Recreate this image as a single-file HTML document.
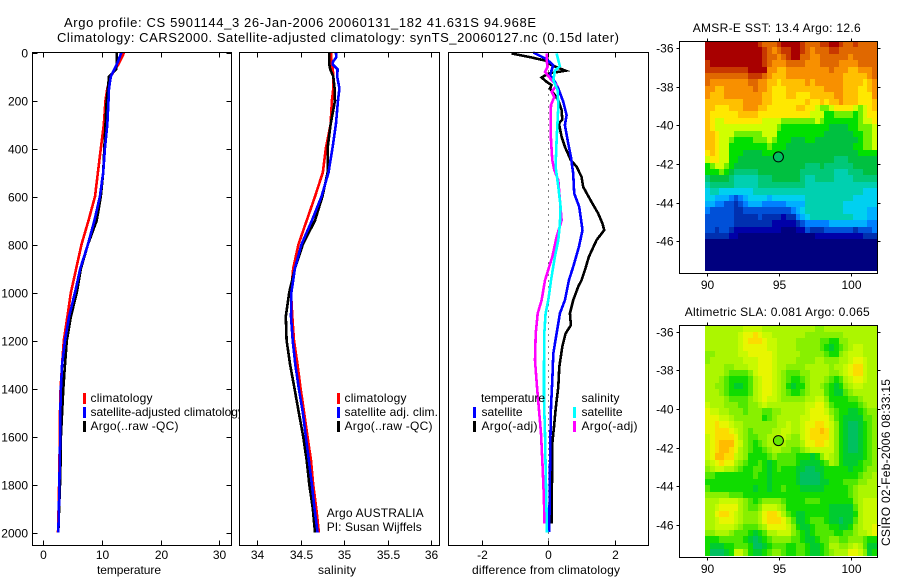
<!DOCTYPE html>
<html>
<head>
<meta charset="utf-8">
<title>Argo profile 5901144_3</title>
<style>
html,body{margin:0;padding:0;background:#fff;}
svg{display:block;}
text{font-family:"Liberation Sans",sans-serif;font-size:12px;fill:#000;}
text.fig-title{font-size:13px;}
</style>
</head>
<body>
<svg id="figure" xmlns="http://www.w3.org/2000/svg" width="900" height="580" viewBox="0 0 900 580">
  <rect x="0" y="0" width="900" height="580" fill="#fff"/>
  <text class="fig-title" x="64" y="27" textLength="472" lengthAdjust="spacing">Argo profile: CS 5901144_3 26-Jan-2006 20060131_182 41.631S 94.968E</text>
  <text class="fig-title" x="57" y="42" textLength="562" lengthAdjust="spacing">Climatology: CARS2000. Satellite-adjusted climatology: synTS_20060127.nc (0.15d later)</text>
  <g id="plots"></g>
  <text transform="translate(890,546) rotate(-90)" textLength="167" lengthAdjust="spacing">CSIRO 02-Feb-2006 08:33:15</text>
</svg>
<script>
// ---- profile data ----
const depths = [0,20,40,50,70,100,150,200,300,400,500,600,700,800,900,1000,1100,1200,1300,1400,1500,1600,1700,1800,1900,2000];
const depthTicks = [0,200,400,600,800,1000,1200,1400,1600,1800,2000];
const tempClim = [13.75,13.4,13.0,12.8,12.2,11.5,10.9,10.6,10.3,9.8,9.3,8.8,7.7,6.5,5.6,4.7,4.1,3.5,3.2,2.95,2.85,2.85,2.75,2.7,2.6,2.5];
const tempSat = [13.3,13.0,12.7,12.5,12.1,11.5,11.2,11.1,10.9,10.5,10.2,9.65,8.7,7.6,6.3,5.4,4.4,3.7,3.2,3.0,2.9,2.9,2.8,2.75,2.65,2.55];
const tempArgo = [12.5,12.5,12.5,12.5,12.4,11.2,11.0,10.8,10.6,10.4,10.2,9.8,9.1,7.6,6.4,5.7,4.7,4.0,3.7,3.4,3.2,3.0,2.95,2.85,2.7,2.55];
const tempTicks = [0,10,20,30];
const salClim = [34.85,34.85,34.86,34.86,34.87,34.875,34.875,34.86,34.845,34.79,34.755,34.665,34.57,34.475,34.415,34.39,34.405,34.425,34.465,34.5,34.54,34.58,34.62,34.645,34.68,34.71];
const salSat = [34.905,34.91,34.87,34.87,34.925,34.92,34.945,34.93,34.905,34.865,34.82,34.74,34.63,34.51,34.435,34.395,34.39,34.41,34.44,34.48,34.525,34.56,34.595,34.63,34.66,34.695];
const salArgo = [34.83,34.83,34.83,34.83,34.84,34.875,34.89,34.895,34.845,34.81,34.81,34.75,34.665,34.525,34.435,34.37,34.33,34.34,34.38,34.43,34.48,34.53,34.57,34.6,34.64,34.665];
const salTicks = [34,34.5,35,35.5,36];
const diffTicks = [-2,0,2];
const diffTempArgoDepth = [4,21,35,53,76,88,104,122,136,150,178,199,240,279,296,351,393,449,476,518,560,615,671,713,740,782,851,907,949,976,1032,1087,1136,1171,1226,1310,1393,1476,1560,1629,1726,1865,1962];
const diffTempArgo = [-1.1,-0.5,-0.05,0.1,0.52,0,-0.2,-0.05,0.1,0.05,0.2,0.3,0.4,0.42,0.32,0.4,0.5,0.68,0.85,1,1.05,1.27,1.5,1.63,1.68,1.45,1.22,1.1,1,0.9,0.75,0.65,0.68,0.52,0.42,0.33,0.3,0.23,0.17,0.12,0.12,0.1,0.1];
const diffTempSatDepth = [0,28,53,74,95,122,150,206,261,303,365,435,504,587,643,740,810,893,949,1032,1087,1171,1254,1365,1476,1629,1865,1997];
const diffTempSat = [-0.45,-0.05,0.15,0.1,0.05,0.2,0.3,0.45,0.55,0.5,0.58,0.68,0.75,0.78,0.93,1.03,0.92,0.75,0.62,0.5,0.35,0.25,0.15,0.12,0.08,0.06,0.04,0.03];
const diffSalArgoDepth = [4,32,60,81,115,136,164,185,219,296,365,449,490,532,615,699,768,851,949,1032,1087,1171,1282,1393,1587,1726,1865,1962];
const diffSalArgo = [-0.05,-0.05,-0.02,-0.1,0.1,0.25,0.1,0.18,0.08,0.07,0.08,0.12,0.18,0.3,0.35,0.4,0.25,0.12,-0.1,-0.2,-0.32,-0.38,-0.4,-0.34,-0.22,-0.17,-0.13,-0.12];
const diffSalSatDepth = [4,32,57,76,115,157,226,365,476,560,643,713,782,851,949,1032,1087,1171,1310,1449,1587,1726,1865,2000];
const diffSalSat = [0.25,0.3,0.35,0.2,0.15,0.28,0.3,0.25,0.22,0.3,0.37,0.35,0.3,0.2,0.08,0,-0.08,-0.12,-0.13,-0.13,-0.1,-0.08,-0.06,-0.04];

// ---- map data ----
const lonTicks = [90,95,100];
const latTicks = [-36,-38,-40,-42,-44,-46];
const argoLon = [94.968];
const argoLat = [-41.631];
const sstPalette = ["#00007f","#0000a8","#0030b0","#0050d8","#0080ff","#00b0ff","#00d0f0","#00d0b0","#00c878","#00c040","#00e000","#70f000","#d0ff00","#ffe800","#ffc000","#f89000","#e06800","#c83800","#a80000"];
const slaPalette = ["#00c060","#00cc30","#10dc00","#50e800","#88f000","#acf600","#c8fa00","#e8f600","#fcdc00","#ffbc00"];
const sstLevels = [
[18,18,18,18,18,18,18,18,18,18,18,17,16,16,16,17,18,18,18,18,17,16,16,16,17,17,18,18,17,16,16,17,16,16,16,16],
[18,18,18,18,18,18,18,18,18,18,18,18,17,16,15,16,17,17,18,18,17,16,15,16,16,16,17,17,16,16,16,16,16,16,16,16],
[18,18,18,18,18,18,18,18,18,18,18,18,17,16,16,15,16,17,18,18,16,16,15,15,16,16,16,16,16,16,15,16,16,16,16,16],
[17,18,18,18,18,18,18,18,18,18,18,18,17,16,15,15,15,16,16,16,16,15,15,15,16,16,16,16,15,15,15,15,16,16,16,16],
[17,17,17,17,17,17,17,17,17,18,18,18,18,15,15,14,14,15,15,15,15,15,15,15,15,15,16,15,15,15,14,14,15,15,15,16],
[16,16,16,16,16,16,16,16,16,17,17,17,16,15,14,14,14,15,15,15,15,15,15,15,15,15,15,15,15,14,14,14,14,14,15,16],
[16,15,15,15,15,15,15,15,15,16,16,15,15,14,14,13,14,14,14,14,14,15,14,15,15,15,15,15,15,14,14,14,14,13,14,15],
[15,15,14,14,15,15,15,15,15,15,16,15,15,14,13,13,13,14,14,14,14,14,14,14,14,15,15,15,15,14,14,14,13,13,14,15],
[15,14,14,14,15,15,15,15,15,15,15,15,14,14,13,13,13,14,14,13,13,13,14,14,14,14,14,15,15,14,14,14,13,13,13,15],
[14,14,14,14,14,14,14,14,15,15,15,15,14,14,13,13,13,13,13,13,13,14,13,13,14,13,14,14,15,14,14,14,13,13,13,14],
[14,14,13,13,13,14,14,14,15,15,15,14,14,13,13,13,13,13,13,14,14,13,13,12,11,11,12,13,13,13,13,12,11,12,13,14],
[14,13,13,13,13,13,13,14,14,14,14,13,13,13,13,13,13,13,13,13,13,13,12,12,12,10,10,11,11,11,11,10,11,12,13,13],
[14,13,12,12,13,13,13,13,13,13,13,13,12,12,12,12,11,11,11,11,11,11,11,12,11,10,10,10,10,10,10,10,11,12,12,13],
[14,13,12,12,12,12,12,12,12,12,12,12,12,12,12,11,10,10,10,10,10,10,10,10,10,10,9,9,9,9,10,10,11,11,11,12],
[14,14,13,12,12,12,11,11,11,11,11,11,12,12,12,10,10,10,10,10,10,10,10,10,10,9,9,9,9,9,9,10,10,11,11,12],
[14,14,13,12,12,11,10,10,10,10,11,11,11,12,11,10,10,10,9,9,9,10,10,9,9,9,9,9,9,9,9,9,10,11,11,12],
[14,14,13,12,12,10,10,10,10,10,10,10,10,11,10,10,10,9,9,9,9,9,9,9,9,9,9,9,9,9,9,10,10,11,11,12],
[13,14,13,12,12,10,10,10,9,9,9,9,10,10,10,10,9,9,9,9,9,9,9,9,9,9,9,9,9,9,9,9,10,10,10,10],
[12,13,13,12,12,10,10,9,9,9,9,9,9,9,9,9,9,9,9,9,9,9,9,9,9,9,9,8,8,8,9,9,9,9,9,9],
[10,11,12,12,11,10,9,9,9,9,9,9,9,9,9,9,9,9,9,9,9,8,8,8,9,8,8,8,8,8,8,9,9,9,9,9],
[10,10,10,11,10,9,8,8,8,8,8,9,9,9,9,9,9,9,9,9,8,8,8,8,8,8,8,7,7,7,8,8,8,9,9,9],
[8,9,9,9,9,8,7,7,7,7,7,8,8,8,9,9,9,9,9,9,8,7,7,8,8,8,8,7,7,7,7,8,8,8,8,8],
[7,8,8,8,8,8,7,7,7,7,7,8,8,8,8,8,8,8,8,8,8,7,7,7,7,7,7,7,7,7,7,7,7,7,7,7],
[6,7,7,6,6,6,6,6,6,6,7,7,7,7,7,7,7,7,7,7,7,7,7,7,7,7,7,7,7,7,7,7,7,6,6,6],
[6,6,5,5,5,4,3,4,5,6,6,6,6,5,6,6,6,6,6,6,6,7,7,7,7,7,7,7,7,7,7,6,6,6,6,6],
[5,5,4,4,3,3,2,3,4,5,5,5,4,4,4,4,4,5,5,5,5,7,7,7,7,7,7,7,7,6,6,6,6,6,6,6],
[4,3,3,3,3,3,2,2,3,3,3,3,3,3,3,3,3,3,4,5,6,7,7,7,7,7,7,7,7,6,6,6,6,6,5,5],
[3,3,3,3,3,3,2,2,2,2,2,3,2,2,2,2,1,2,2,4,5,6,7,7,7,7,7,7,7,7,7,6,6,6,5,5],
[3,3,3,3,3,3,2,2,2,2,2,2,2,2,1,1,1,1,1,2,3,4,4,4,4,4,5,5,5,5,5,5,5,5,4,4],
[3,3,2,3,3,2,1,1,1,1,1,1,1,1,1,1,0,0,0,1,1,3,2,2,2,3,3,3,3,3,3,2,3,3,3,4],
[2,2,2,2,2,1,1,0,0,0,0,0,0,0,0,0,0,0,0,0,0,0,0,1,1,1,1,1,1,1,1,1,1,2,2,2],
[0,0,0,0,0,0,0,0,0,0,0,0,0,0,0,0,0,0,0,0,0,0,0,0,0,0,0,0,0,0,0,0,0,0,0,0],
[0,0,0,0,0,0,0,0,0,0,0,0,0,0,0,0,0,0,0,0,0,0,0,0,0,0,0,0,0,0,0,0,0,0,0,0],
[0,0,0,0,0,0,0,0,0,0,0,0,0,0,0,0,0,0,0,0,0,0,0,0,0,0,0,0,0,0,0,0,0,0,0,0],
[0,0,0,0,0,0,0,0,0,0,0,0,0,0,0,0,0,0,0,0,0,0,0,0,0,0,0,0,0,0,0,0,0,0,0,0],
[0,0,0,0,0,0,0,0,0,0,0,0,0,0,0,0,0,0,0,0,0,0,0,0,0,0,0,0,0,0,0,0,0,0,0,0]
];
const slaLevels = [
[5,5,5,5,5,5,5,5,6,6,6,6,5,5,5,5,5,5,5,5,5,5,5,4,4,5,5,5,5,5,5,5,5,5,5,5],
[5,5,5,5,5,5,5,6,7,7,8,7,6,6,5,5,5,5,5,5,5,4,4,4,4,4,4,4,4,5,5,5,5,5,5,5],
[5,5,5,5,5,5,5,6,7,8,8,8,7,6,6,5,5,5,5,4,4,4,4,4,3,3,2,2,4,4,5,5,5,5,5,5],
[5,5,5,5,5,5,5,6,7,7,7,7,7,6,6,5,5,5,5,4,4,4,4,4,3,2,1,2,3,4,5,6,6,5,5,5],
[4,4,5,5,5,5,5,6,6,7,7,7,7,7,6,5,5,5,5,5,4,4,4,4,4,3,2,2,4,5,6,6,6,5,5,5],
[4,5,5,5,5,5,5,5,6,6,6,7,7,7,6,5,5,5,5,4,4,4,4,5,5,4,4,4,5,5,6,7,7,6,5,5],
[5,5,5,5,4,4,5,5,5,6,6,7,7,7,6,5,5,4,4,4,4,5,5,5,5,5,4,5,5,6,7,8,8,6,5,5],
[5,5,5,5,4,3,3,3,3,4,6,7,7,7,6,5,4,3,3,3,4,4,5,5,5,5,4,4,5,6,7,8,8,6,5,5],
[5,5,5,4,3,2,2,2,2,3,5,6,7,7,6,5,4,3,2,2,3,4,5,5,5,4,3,2,3,5,6,7,7,6,5,5],
[5,5,4,4,3,2,1,1,2,3,5,6,7,7,6,5,4,2,1,2,2,4,5,5,4,3,2,1,2,4,5,6,6,5,5,5],
[5,5,5,4,3,2,2,2,2,3,5,6,7,7,6,5,4,3,2,2,3,4,5,5,5,3,2,1,1,3,4,5,5,5,5,5],
[5,5,5,5,4,3,3,3,3,4,5,6,7,6,6,5,4,4,4,4,4,5,5,6,6,4,2,2,2,2,3,3,4,5,5,5],
[6,5,5,5,4,4,4,3,3,4,4,5,6,5,5,5,5,5,5,5,5,6,6,7,7,5,3,2,2,2,2,2,3,4,5,5],
[7,6,6,5,5,4,4,4,3,4,4,4,3,3,4,4,5,5,5,5,5,6,7,7,7,6,4,3,2,2,1,1,2,3,4,4],
[7,7,7,6,6,5,4,4,4,4,4,4,2,3,4,5,5,5,5,5,6,6,7,7,7,7,5,3,2,1,1,1,1,3,3,4],
[7,7,8,7,7,6,5,5,4,4,4,4,4,4,4,5,5,6,5,5,6,7,7,8,8,7,6,4,2,1,0,0,1,2,3,4],
[7,7,8,8,8,7,6,5,4,3,4,4,4,4,5,5,6,6,5,5,6,7,8,8,9,8,6,4,2,1,0,0,1,2,3,4],
[6,7,8,8,8,8,7,5,4,3,3,4,4,5,5,6,6,5,4,4,6,7,8,8,8,8,6,4,2,1,0,0,1,2,3,4],
[6,7,8,9,9,9,7,6,4,3,2,3,4,5,5,5,5,4,4,4,5,7,7,8,8,7,6,4,2,1,0,0,1,2,3,4],
[6,7,8,9,9,8,7,5,4,3,2,2,3,4,5,5,4,4,3,3,4,5,6,6,6,6,6,4,2,1,0,0,1,2,3,4],
[6,7,9,9,8,8,6,5,4,2,2,2,2,3,4,3,3,3,3,2,2,2,1,2,4,6,5,4,2,1,1,1,1,2,3,4],
[5,6,7,8,7,7,5,4,3,2,2,3,2,1,2,3,3,3,3,2,1,1,1,1,2,3,5,4,2,1,1,1,2,3,3,4],
[4,5,6,6,5,5,4,3,2,2,3,3,2,1,2,3,2,2,2,1,1,0,0,1,1,2,2,2,2,2,1,2,2,3,4,4],
[3,3,2,2,2,2,2,2,2,2,3,2,2,1,2,2,2,2,2,1,0,0,0,0,1,2,2,2,2,2,2,2,3,4,4,5],
[2,2,2,2,2,2,2,2,2,2,2,2,2,1,2,2,2,2,2,1,0,0,0,0,1,1,2,2,2,3,3,3,4,4,5,5],
[3,2,2,2,2,2,2,2,2,2,1,2,2,1,2,2,3,2,2,2,1,1,1,1,1,2,2,2,2,2,3,4,5,5,5,5],
[4,4,4,4,4,3,3,3,2,2,2,2,2,2,2,2,2,2,2,2,2,2,2,2,2,2,2,2,2,2,3,4,5,5,5,5],
[5,5,5,6,6,6,6,5,4,3,2,3,4,4,4,4,3,2,2,2,2,3,3,3,2,2,2,2,2,2,2,4,5,6,6,6],
[5,5,6,7,7,7,7,5,4,3,3,4,6,6,6,5,4,2,2,2,2,2,2,2,2,2,1,1,1,1,1,3,5,6,6,6],
[5,5,7,8,8,7,6,5,4,4,4,5,7,8,8,7,5,3,2,1,1,2,2,2,2,2,1,1,1,1,1,2,5,6,6,6],
[5,5,6,7,7,7,6,5,4,4,4,5,7,8,8,8,7,5,3,1,1,2,3,3,3,2,1,1,0,1,1,3,5,6,6,6],
[5,5,6,6,6,6,5,4,3,3,3,4,5,7,7,7,7,6,4,2,1,1,2,3,3,3,2,2,1,1,2,4,5,6,6,7],
[4,4,5,5,5,4,3,3,3,2,1,2,3,5,5,6,6,6,4,3,2,1,2,3,3,3,3,2,2,3,3,4,5,5,6,7],
[2,2,2,3,3,3,3,3,2,1,0,1,2,3,4,4,4,4,3,3,2,1,1,2,3,3,4,4,3,3,4,4,4,3,2,2],
[2,1,1,1,2,2,3,3,3,2,0,0,1,2,3,3,3,2,2,3,3,2,1,1,2,3,5,5,4,4,5,6,5,3,1,1],
[2,0,0,0,1,2,6,6,4,2,1,1,2,3,4,4,3,2,2,3,3,2,1,1,2,3,4,5,5,5,7,7,6,4,1,2]
];

const NS = "http://www.w3.org/2000/svg";
const plots = document.getElementById("plots");

function make(parent, tag, name) {
  const el = document.createElementNS(NS, tag);
  
  
  parent.appendChild(el);
  return el;
}
function setAll(el, props) {
  for (const k in props) el.setAttribute(k, props[k]);
  return el;
}
function addLine(parent, name, x1, y1, x2, y2, color, width) {
  const el = make(parent, "line", name);
  setAll(el, {x1: x1, y1: y1, x2: x2, y2: y2, stroke: color || "#000", "stroke-width": width || 1, "shape-rendering": "crispEdges"});
  return el;
}
function addText(parent, name, str, x, y, anchor, fit) {
  const el = make(parent, "text", name);
  setAll(el, {x: x, y: y, "text-anchor": anchor || "start"});
  if (fit) setAll(el, {textLength: fit, lengthAdjust: "spacing"});
  el.textContent = str;
  return el;
}
function addSeries(parent, name, xs, ds, xScale, yScale, color) {
  const el = make(parent, "polyline", name);
  const pts = xs.map((v, i) => xScale(v).toFixed(1) + "," + yScale(ds[i]).toFixed(1)).join(" ");
  setAll(el, {points: pts, fill: "none", stroke: color, "stroke-width": 2.6, "stroke-linejoin": "miter", "shape-rendering": "crispEdges"});
  return el;
}
function addLegendMark(parent, name, x, y, color) {
  const el = make(parent, "rect", name);
  setAll(el, {x: x, y: y, width: 3, height: 11, fill: color, "shape-rendering": "crispEdges"});
  return el;
}

const yDepth = d => 52.5 + d * 0.24;
const xTemp = v => 43.3 + v * 5.87;
const xSal = v => 257 + (v - 34) * 87.15;
const xDiff = v => 548.3 + v * 33.25;

function panelFrame(g, left, right, xTicks, xScale, xTitle, titleX, titleFit, sideTicks) {
  const top = 52.5, bottom = 545.5;
  const bg = make(g, "rect", "panel-background");
  setAll(bg, {x: left, y: top, width: right - left, height: bottom - top, fill: "#fff"});
  return {top: top, bottom: bottom, left: left, right: right, xTicks: xTicks, xScale: xScale, xTitle: xTitle, titleX: titleX, titleFit: titleFit, sideTicks: sideTicks};
}
function panelAxes(g, p) {
  const frame = make(g, "rect", "panel-frame");
  setAll(frame, {x: p.left, y: p.top, width: p.right - p.left, height: p.bottom - p.top, fill: "none", stroke: "#000", "stroke-width": 1, "shape-rendering": "crispEdges"});
  p.xTicks.forEach(t => {
    const x = Math.round(p.xScale(t)) + 0.5;
    addLine(g, "x-tick-top", x, p.top, x, p.top + 5);
    addLine(g, "x-tick-bottom", x, p.bottom - 5, x, p.bottom);
    addText(g, "x-tick-label", String(t), x, 559, "middle");
  });
  addText(g, "x-axis-title", p.xTitle, p.titleX, 574, "start", p.titleFit);
  if (p.sideTicks) {
    depthTicks.forEach(d => {
      const y = Math.round(yDepth(d)) + 0.5;
      addLine(g, "y-tick-left", p.left, y, p.left + 5, y);
      addLine(g, "y-tick-right", p.right - 5, y, p.right, y);
      addText(g, "y-tick-label", String(d), 28, y + 4, "end");
    });
  }
}

// ---- temperature panel ----
const gTemp = make(plots, "g", "temperature-panel");
const pTemp = panelFrame(gTemp, 32.5, 231.5, tempTicks, xTemp, "temperature", 97, 64, true);
addSeries(gTemp, "temperature-climatology-line", tempClim, depths, xTemp, yDepth, "#ff0000");
addSeries(gTemp, "temperature-argo-line", tempArgo, depths, xTemp, yDepth, "#000000");
addSeries(gTemp, "temperature-satellite-line", tempSat, depths, xTemp, yDepth, "#0000ff");
panelAxes(gTemp, pTemp);
const lgTemp = make(gTemp, "g", "temperature-legend");
addLegendMark(lgTemp, "legend-mark-climatology", 83, 393, "#ff0000");
addText(lgTemp, "legend-label-climatology", "climatology", 90.5, 402, "start", 62);
addLegendMark(lgTemp, "legend-mark-satellite", 83, 407, "#0000ff");
addText(lgTemp, "legend-label-satellite", "satellite-adjusted climatology", 90.5, 416);
addLegendMark(lgTemp, "legend-mark-argo", 83, 421, "#000000");
addText(lgTemp, "legend-label-argo", "Argo(..raw -QC)", 90.5, 430, "start", 88);

// ---- salinity panel ----
const gSal = make(plots, "g", "salinity-panel");
const pSal = panelFrame(gSal, 239.5, 439.5, salTicks, xSal, "salinity", 318, 38, false);
addSeries(gSal, "salinity-climatology-line", salClim, depths, xSal, yDepth, "#ff0000");
addSeries(gSal, "salinity-argo-line", salArgo, depths, xSal, yDepth, "#000000");
addSeries(gSal, "salinity-satellite-line", salSat, depths, xSal, yDepth, "#0000ff");
panelAxes(gSal, pSal);
const lgSal = make(gSal, "g", "salinity-legend");
addLegendMark(lgSal, "legend-mark-climatology", 337, 393, "#ff0000");
addText(lgSal, "legend-label-climatology", "climatology", 344.5, 402, "start", 62);
addLegendMark(lgSal, "legend-mark-satellite", 337, 407, "#0000ff");
addText(lgSal, "legend-label-satellite", "satellite adj. clim.", 344.5, 416, "start", 93.5);
addLegendMark(lgSal, "legend-mark-argo", 337, 421, "#000000");
addText(lgSal, "legend-label-argo", "Argo(..raw -QC)", 344.5, 430, "start", 88);
addText(gSal, "float-owner-label", "Argo AUSTRALIA", 326.7, 517, "start", 97);
addText(gSal, "principal-investigator-label", "PI: Susan Wijffels", 326.7, 531, "start", 95);

// ---- difference panel ----
const gDiff = make(plots, "g", "difference-panel");
const pDiff = panelFrame(gDiff, 448.5, 648.5, diffTicks, xDiff, "difference from climatology", 472, 148, false);
const zeroLine = make(gDiff, "line", "zero-reference-line");
setAll(zeroLine, {x1: Math.round(xDiff(0)) + 0.5, y1: 52.5, x2: Math.round(xDiff(0)) + 0.5, y2: 545, stroke: "#000", "stroke-width": 1, "stroke-dasharray": "1 5", "shape-rendering": "crispEdges"});
addSeries(gDiff, "difference-temperature-argo-line", diffTempArgo, diffTempArgoDepth, xDiff, yDepth, "#000000");
addSeries(gDiff, "difference-temperature-satellite-line", diffTempSat, diffTempSatDepth, xDiff, yDepth, "#0000ff");
addSeries(gDiff, "difference-salinity-argo-line", diffSalArgo, diffSalArgoDepth, xDiff, yDepth, "#ff00ff");
addSeries(gDiff, "difference-salinity-satellite-line", diffSalSat, diffSalSatDepth, xDiff, yDepth, "#00ffff");
panelAxes(gDiff, pDiff);
const lgDiff = make(gDiff, "g", "difference-legend");
addText(lgDiff, "legend-heading-temperature", "temperature", 481, 402, "start", 64);
addLegendMark(lgDiff, "legend-mark-temperature-satellite", 473, 407, "#0000ff");
addText(lgDiff, "legend-label-temperature-satellite", "satellite", 481.5, 416, "start", 41);
addLegendMark(lgDiff, "legend-mark-temperature-argo", 473, 421, "#000000");
addText(lgDiff, "legend-label-temperature-argo", "Argo(-adj)", 481.5, 430, "start", 56);
addText(lgDiff, "legend-heading-salinity", "salinity", 581.5, 402, "start", 38);
addLegendMark(lgDiff, "legend-mark-salinity-satellite", 573, 407, "#00ffff");
addText(lgDiff, "legend-label-salinity-satellite", "satellite", 581.5, 416, "start", 41);
addLegendMark(lgDiff, "legend-mark-salinity-argo", 573, 421, "#ff00ff");
addText(lgDiff, "legend-label-salinity-argo", "Argo(-adj)", 581.5, 430, "start", 56);

// ---- maps ----
function drawMap(name, levels, palette, spec) {
  const g = make(plots, "g", name);
  const xLon = lon => 706.7 + (lon - 90) * 14.43;
  const yLat = lat => spec.lat36 + (-36 - lat) * 19.34;
  const step = 0.331;
  const cells = make(g, "g", name + "-cells");
  levels.forEach((row, r) => {
    row.forEach((v, c) => {
      const x0 = Math.round(xLon(89.88 + c * step));
      const x1 = Math.round(xLon(89.88 + (c + 1) * step));
      const y0 = Math.round(yLat(spec.latTop - r * step));
      const y1 = Math.round(yLat(spec.latTop - (r + 1) * step));
      const cell = make(cells, "rect", "heatmap-cell");
      setAll(cell, {x: x0, y: y0, width: Math.max(x1 - x0, 1), height: Math.max(y1 - y0, 1), fill: palette[v], "shape-rendering": "crispEdges"});
    });
  });
  const frame = make(g, "rect", name + "-frame");
  setAll(frame, {x: 679.5, y: spec.top, width: 198, height: spec.bottom - spec.top, fill: "none", stroke: "#000", "stroke-width": 1, "shape-rendering": "crispEdges"});
  lonTicks.forEach(t => {
    const x = Math.round(xLon(t)) + 0.5;
    addLine(g, "longitude-tick-top", x, spec.top - 3, x, spec.top);
    addLine(g, "longitude-tick-bottom", x, spec.bottom, x, spec.bottom + 3);
    addText(g, "longitude-tick-label", String(t), x, spec.lonBase, "middle");
  });
  latTicks.forEach(t => {
    const y = Math.round(yLat(t)) + 0.5;
    addLine(g, "latitude-tick-left", 676.5, y, 679.5, y);
    addLine(g, "latitude-tick-right", 877.5, y, 880.5, y);
    addText(g, "latitude-tick-label", String(t), 673.5, y + 4, "end");
  });
  addText(g, name + "-title", spec.title, spec.titleX, spec.titleY, "start", spec.titleFit);
  const marker = make(g, "circle", name + "-argo-marker");
  setAll(marker, {cx: xLon(argoLon[0]).toFixed(1), cy: yLat(argoLat[0]).toFixed(1), r: 5, fill: spec.markerFill, stroke: "#000", "stroke-width": 1});
}
drawMap("sst-map", sstLevels, sstPalette, {lat36: 48, latTop: -35.64, top: 41.5, bottom: 273.5, lonBase: 289, title: "AMSR-E SST: 13.4 Argo: 12.6", titleX: 692.7, titleY: 32, titleFit: 168, markerFill: "#00c060"});
drawMap("sla-map", slaLevels, slaPalette, {lat36: 331.7, latTop: -35.66, top: 325.5, bottom: 557.5, lonBase: 573, title: "Altimetric SLA: 0.081 Argo: 0.065", titleX: 684.7, titleY: 316, titleFit: 185, markerFill: "#66e800"});
</script>
</body>
</html>
